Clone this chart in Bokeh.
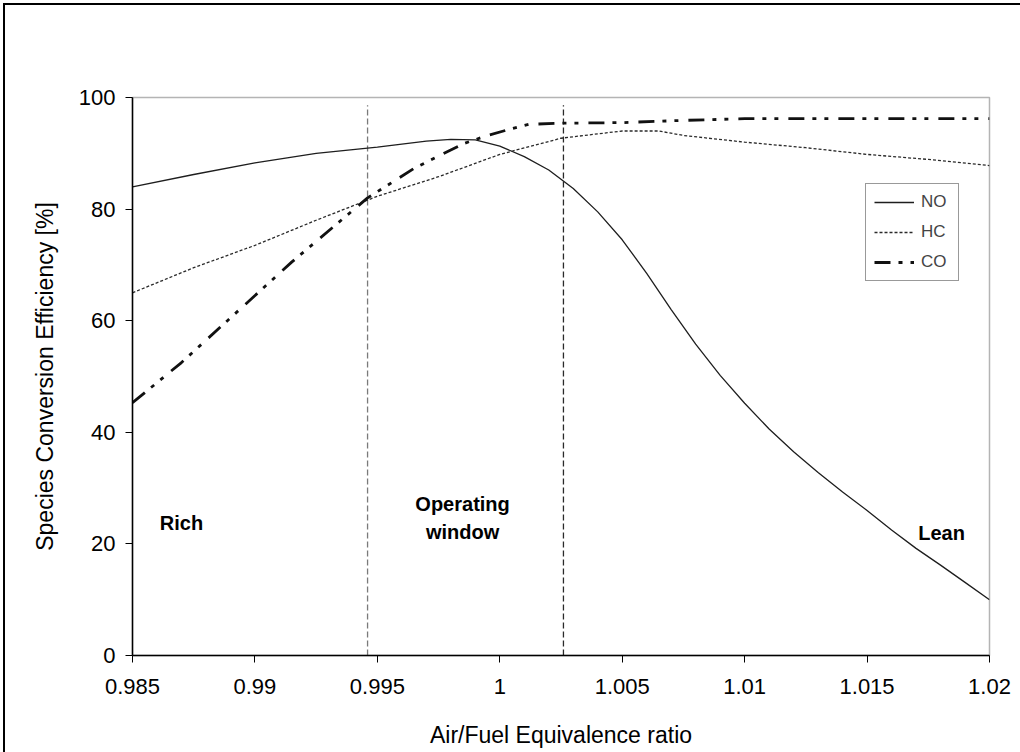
from bokeh.plotting import figure
from bokeh.models import (Range1d, Label, Legend, LegendItem, FixedTicker,
                          ColumnDataSource)
from bokeh.embed import file_html
from bokeh.resources import INLINE

# Air/fuel equivalence ratio samples and conversion efficiency (%) per species
lambda_no = [0.985, 0.9875, 0.99, 0.9925, 0.995, 0.997, 0.998, 0.999, 1.0, 1.001,
             1.002, 1.003, 1.004, 1.005, 1.006, 1.007, 1.008, 1.009, 1.01, 1.011,
             1.012, 1.013, 1.014, 1.015, 1.016, 1.017, 1.018, 1.019, 1.02]
eff_no = [84.0, 86.2, 88.3, 90.0, 91.1, 92.2, 92.5, 92.4, 91.3, 89.4,
          87.0, 83.7, 79.5, 74.5, 68.5, 62.0, 55.8, 50.2, 45.2, 40.6,
          36.5, 32.8, 29.3, 26.0, 22.5, 19.2, 16.2, 13.1, 10.0]

lambda_hc = [0.985, 0.9875, 0.99, 0.9925, 0.995, 0.9975, 1.0, 1.0025, 1.005,
             1.0065, 1.0075, 1.01, 1.0125, 1.015, 1.0175, 1.02]
eff_hc = [65.0, 69.5, 73.5, 78.0, 82.3, 85.8, 89.8, 92.7, 94.0,
          94.0, 93.2, 92.0, 91.0, 89.8, 88.9, 87.8]

lambda_co = [0.985, 0.987, 0.989, 0.9915, 0.9946, 0.9965, 0.9985, 0.9995, 1.0004,
             1.0012, 1.0026, 1.005, 1.0075, 1.01, 1.02]
eff_co = [45.3, 52.5, 60.5, 70.5, 82.0, 87.3, 91.7, 93.2, 94.3,
          95.2, 95.4, 95.5, 95.9, 96.2, 96.2]

# Boundaries of the operating window
window_bounds = [0.9946, 1.0026]

x_ticks = [0.985, 0.99, 0.995, 1.0, 1.005, 1.01, 1.015, 1.02]
x_tick_labels = ["0.985", "0.99", "0.995", "1", "1.005", "1.01", "1.015", "1.02"]
y_ticks = [0, 20, 40, 60, 80, 100]

FONT = "Liberation Sans"

# the canvas starts 5px in from the page corner, after a thin black rule
p = figure(width=1015, height=747, frame_width=857, frame_height=558,
           min_border_left=127, min_border_right=31,
           min_border_top=92, min_border_bottom=97,
           x_range=Range1d(0.985, 1.02), y_range=Range1d(0, 100),
           output_backend="svg", toolbar_location=None,
           background_fill_color="white", border_fill_color="white")
p.styles = {"margin-left": "3px", "margin-top": "3px",
            "border-left": "2px solid black", "border-top": "2px solid black"}

p.xgrid.visible = False
p.ygrid.visible = False
p.outline_line_color = "#b4b4b4"
p.outline_line_width = 1.5

for ax in (p.xaxis[0], p.yaxis[0]):
    ax.axis_line_color = "black"
    ax.axis_line_width = 1.5
    ax.major_tick_line_color = "black"
    ax.major_tick_out = 7
    ax.major_tick_in = 0
    ax.minor_tick_out = 0
    ax.minor_tick_in = 0
    ax.major_label_text_font = FONT
    ax.major_label_text_font_size = "22px"
    ax.major_label_text_color = "black"
    ax.axis_label_text_font = FONT
    ax.axis_label_text_font_size = "23px"
    ax.axis_label_text_font_style = "normal"
    ax.axis_label_text_color = "black"

p.xaxis.ticker = FixedTicker(ticks=x_ticks)
p.xaxis.major_label_overrides = {t: s for t, s in zip(x_ticks, x_tick_labels)}
p.xaxis.major_label_standoff = 16
p.xaxis.axis_label = "Air/Fuel Equivalence ratio"
p.xaxis.axis_label_standoff = 25

p.yaxis.ticker = FixedTicker(ticks=y_ticks)
p.yaxis.major_label_standoff = 10
p.yaxis.axis_label = "Species Conversion Efficiency [%]"
p.yaxis.axis_label_standoff = 18

# Operating window boundaries
seg_src = ColumnDataSource(dict(x0=window_bounds, y0=[0, 0],
                                x1=window_bounds, y1=[98.6, 98.6],
                                c=["#7a7a7a", "#2a2a2a"]))
p.segment(x0="x0", y0="y0", x1="x1", y1="y1", source=seg_src,
          line_color="c", line_width=1.3, line_dash="6 3")

r_no = p.line(lambda_no, eff_no, line_color="#1e1e1e", line_width=1.3)
r_hc = p.line(lambda_hc, eff_hc, line_color="#2a2a2a", line_width=1.3,
              line_dash="3 2")
r_co = p.line(lambda_co, eff_co, line_color="#111111", line_width=2.8,
              line_dash="16 8 4 8 4 10")

legend = Legend(items=[LegendItem(label="NO", renderers=[r_no]),
                       LegendItem(label="HC", renderers=[r_hc]),
                       LegendItem(label="CO", renderers=[r_co])],
                location=(733, 374), orientation="vertical",
                label_text_font=FONT, label_text_font_size="17px",
                label_text_color="#444444",
                glyph_width=40, glyph_height=20, label_height=20,
                label_width=29, label_standoff=7, spacing=10,
                padding=8, margin=0,
                border_line_color="#333333", border_line_width=1.5,
                background_fill_color="white", background_fill_alpha=1.0)
p.add_layout(legend)

region_labels = [("Rich", 0.9870, 23.8), ("Operating", 0.99848, 27.2),
                 ("window", 0.99848, 22.2), ("Lean", 1.01804, 22.0)]
for txt, lx, ly in region_labels:
    p.add_layout(Label(x=lx, y=ly, text=txt, text_font=FONT,
                       text_font_size="20px", text_font_style="bold",
                       text_color="black", text_align="center",
                       text_baseline="middle"))

open("out.html", "w").write(file_html(p, INLINE))
